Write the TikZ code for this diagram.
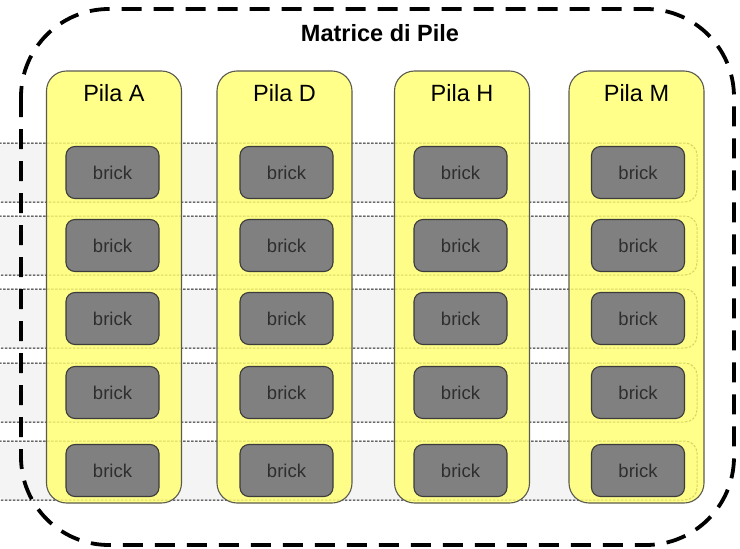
\documentclass[tikz,border=0pt]{standalone}
\usepackage{fontspec}
\setmainfont{Liberation Sans}
\begin{document}
\definecolor{pilefill}{HTML}{FFFF70}
\definecolor{pileline}{HTML}{5A5A50}
\definecolor{brickfill}{HTML}{808080}
\definecolor{brickline}{HTML}{3C3C3C}
\definecolor{bricktext}{HTML}{2E2E2E}
\definecolor{rowfill}{HTML}{F4F4F4}
\definecolor{rowline}{HTML}{1A1A1A}
\begin{tikzpicture}[x=1pt,y=-1pt,
  pilebox/.style={draw=pileline,line width=1.1pt,fill=pilefill,fill opacity=0.82,
    rounded corners=20pt,minimum width=135pt,minimum height=432pt,inner sep=0pt},
  piletitle/.style={font=\fontsize{23.5}{26}\selectfont,text=black,inner sep=0pt},
  brickbox/.style={draw=brickline,line width=1.1pt,fill=brickfill,rounded corners=9pt,
    minimum width=93pt,minimum height=52pt,inner sep=0pt,
    font=\fontsize{18.5}{21}\selectfont,text=bricktext},
  rowband/.style={fill=rowfill},
  rowedge/.style={draw=rowline,line width=1pt,dash pattern=on 2.5pt off 1.5pt,rounded corners=12pt},
  matrixframe/.style={draw=black,line width=3.8pt,dash pattern=on 20pt off 12pt,rounded corners=88pt}]
\useasboundingbox (0,0) rectangle (740,549);
% horizontal rows: light bands with dashed edges, rounded at the right end
\foreach \t/\b in {143/202,216/275,289/348,363/422,441/500}{
  \fill[rowband,rounded corners=12pt] (-5,\t) -- (697,\t) -- (697,\b) -- (-5,\b) -- cycle;
  \draw[rowedge] (-5,\t) -- (697,\t) -- (697,\b) -- (-5,\b);
}
% outer frame
\draw[matrixframe] (21,9) rectangle (734,545);
\node[font=\bfseries\fontsize{23.5}{26}\selectfont,inner sep=0pt] (title) at (380,33) {Matrice di Pile};
% piles
\foreach \n/\x/\bx/\lbl in {a/114/112.5/Pila A,d/284.5/286.5/Pila D,h/462/460.5/Pila H,m/636.5/638/Pila M}{
  \node[pilebox] (pile-\n) at (\x,287) {};
  \node[piletitle] (label-\n) at (\x,93) {\lbl};
  \foreach \r/\y in {1/172.5,2/245.5,3/318.5,4/392.5,5/470.5}{
    \node[brickbox] (brick-\n-\r) at (\bx,\y) {brick};
  }
}
\end{tikzpicture}
\end{document}
